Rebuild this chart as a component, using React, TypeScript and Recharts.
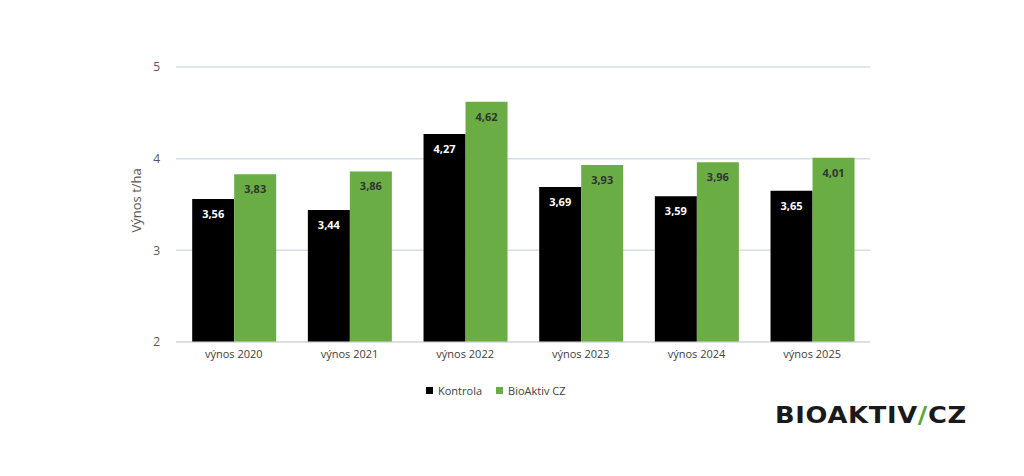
import { BarChart, Bar, XAxis, YAxis, CartesianGrid, LabelList } from 'recharts';

const categories = ['výnos 2020', 'výnos 2021', 'výnos 2022', 'výnos 2023', 'výnos 2024', 'výnos 2025'];
const kontrola = [3.56, 3.44, 4.27, 3.69, 3.59, 3.65];
const bioaktiv = [3.83, 3.86, 4.62, 3.93, 3.96, 4.01];
const yTicks = [2, 3, 4, 5];

const data = categories.map((name, i) => ({ name, kontrola: kontrola[i], bioaktiv: bioaktiv[i] }));

const fmt = (v: any) => Number(v).toFixed(2).replace('.', ',');
const font = '"Open Sans", sans-serif';

export default function App() {
  return (
    <div style={{ position: 'absolute', left: 0, top: 0, width: 1024, height: 476, background: '#fff', fontFamily: font }}>
      <BarChart
        width={1024}
        height={476}
        data={data}
        margin={{ top: 67, right: 154, left: 126, bottom: 104 }}
        barCategoryGap="14%"
        barGap={0}
      >
        <CartesianGrid vertical={false} stroke="#d3deea" strokeWidth={1.5} />
        <XAxis
          dataKey="name"
          axisLine={{ stroke: '#d9d9d9' }}
          tickLine={false}
          tick={{ fill: '#404040', fontSize: 11, fontFamily: font }}
          height={30}
        />
        <YAxis
          domain={[2, 5]}
          ticks={yTicks}
          width={50}
          axisLine={false}
          tickLine={false}
          tickMargin={10}
          tick={{ fill: '#555', fontSize: 12, fontFamily: font }}
          label={{ value: 'Výnos t/ha', angle: -90, position: 'insideLeft', offset: 10, dy: 28, fill: '#555', fontSize: 13, fontFamily: font }}
        />
        <Bar dataKey="kontrola" fill="#000" isAnimationActive={false}>
          <LabelList dataKey="kontrola" position="insideTop" offset={11} formatter={fmt} fill="#fff" fontSize={11} fontWeight={700} fontFamily={font} />
        </Bar>
        <Bar dataKey="bioaktiv" fill="#6aad45" isAnimationActive={false}>
          <LabelList dataKey="bioaktiv" position="insideTop" offset={11} formatter={fmt} fill="#333" fontSize={11} fontWeight={700} fontFamily={font} />
        </Bar>
      </BarChart>
      <div style={{ position: 'absolute', top: 383, left: 426, display: 'flex', alignItems: 'center', fontSize: 11, color: '#404040' }}>
        <span style={{ width: 7, height: 7, background: '#000', marginRight: 5 }} />
        <span style={{ marginRight: 14 }}>Kontrola</span>
        <span style={{ width: 7, height: 7, background: '#6aad45', marginRight: 5 }} />
        <span>BioAktiv CZ</span>
      </div>
      <div style={{ position: 'absolute', top: 402, left: 775, fontFamily: '"DejaVu Sans", sans-serif', fontWeight: 900, fontSize: 23, color: '#1a1a1a', letterSpacing: 0.6, transform: 'scaleX(1.12)', transformOrigin: 'left' }}>
        BIOAKTIV<span style={{ color: '#5aa832' }}>/</span>CZ
      </div>
    </div>
  );
}
